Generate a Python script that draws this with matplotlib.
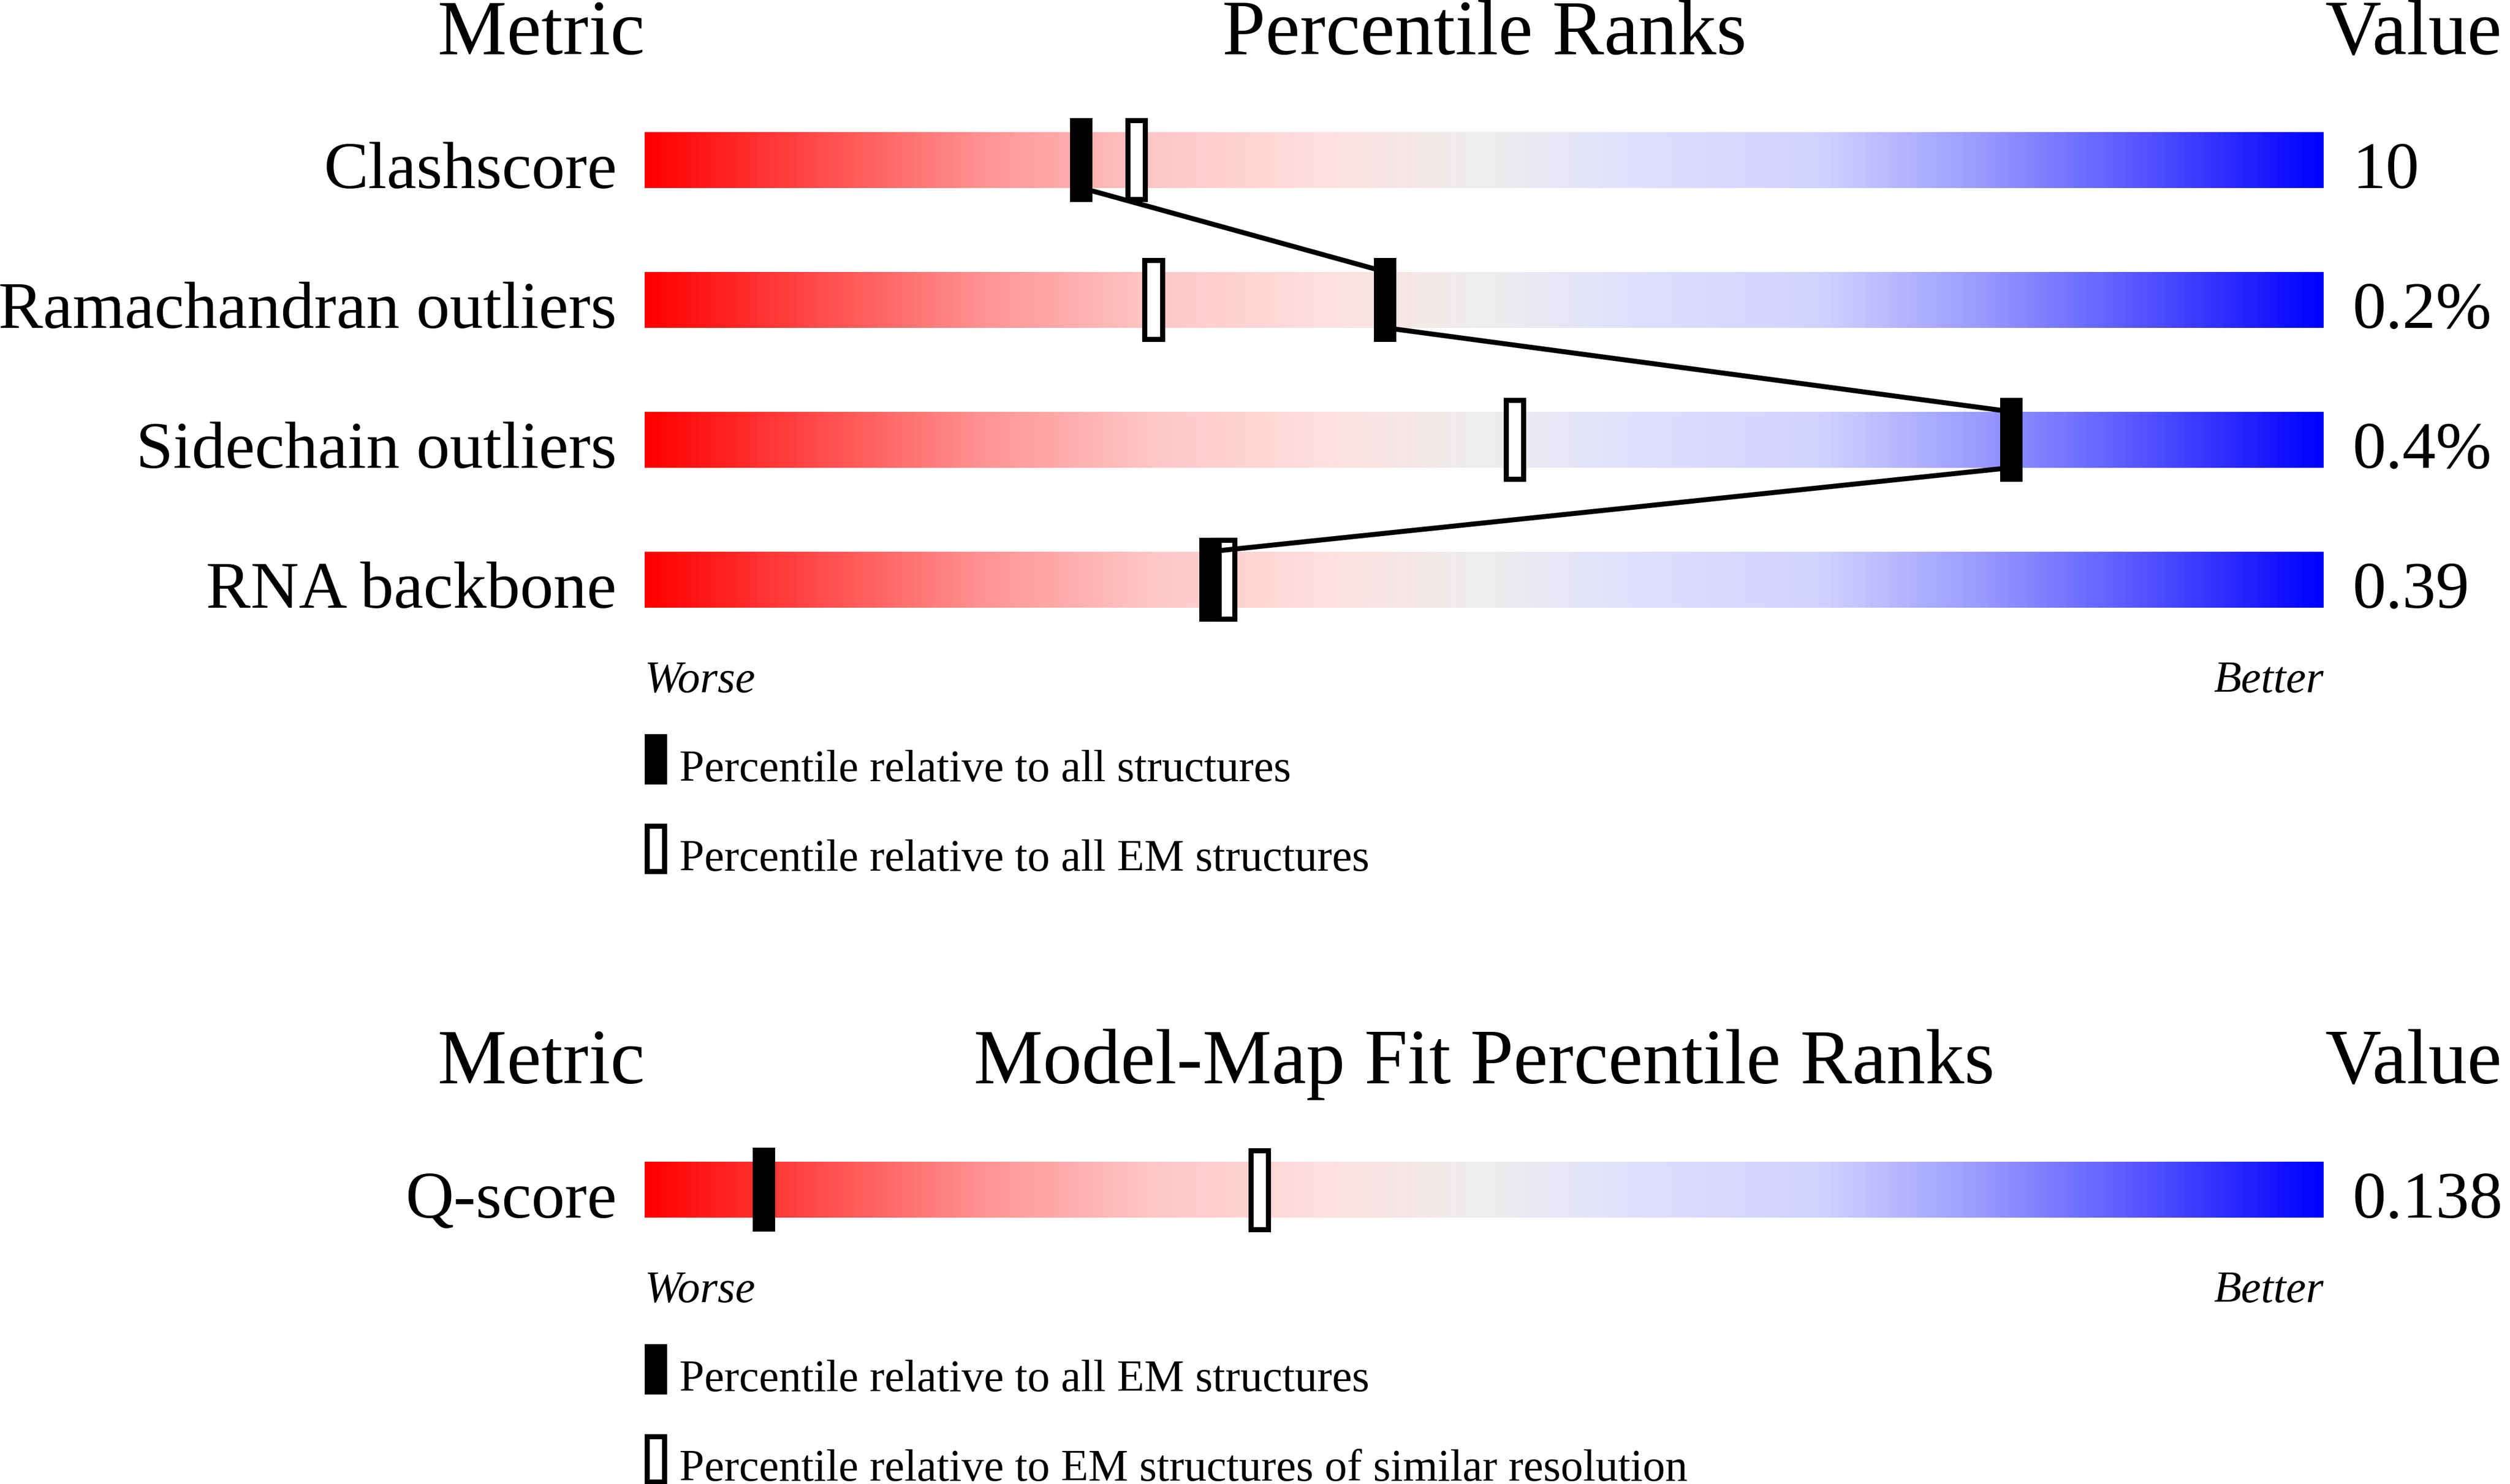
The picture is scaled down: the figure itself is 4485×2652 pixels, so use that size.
import matplotlib.pyplot as plt
import numpy as np
from matplotlib.colors import LinearSegmentedColormap
from matplotlib.patches import Rectangle

# data
metriky = ["Clashscore", "Ramachandran outliers", "Sidechain outliers", "RNA backbone"]
hodnoty = ["10", "0.2%", "0.4%", "0.39"]
pct_vse = [26.0, 44.1, 81.4, 33.7]
pct_em = [29.3, 30.3, 51.8, 34.6]

fit_metriky = ["Q-score"]
fit_hodnoty = ["0.138"]
fit_pct_em = [7.1]
fit_pct_podobne = [36.6]

legenda1 = ["Percentile relative to all structures", "Percentile relative to all EM structures"]
legenda2 = ["Percentile relative to all EM structures",
            "Percentile relative to EM structures of similar resolution"]

# barvy slideru
stopy = [(0.0, "#ff0000"), (0.1, "#ff4a4a"), (0.2, "#ff9292"), (0.3, "#ffc6c6"),
         (0.4, "#ffdede"), (0.5, "#eeeeee"), (0.6, "#dedeff"), (0.7, "#d2d2ff"),
         (0.8, "#9898ff"), (0.9, "#5050ff"), (1.0, "#0000ff")]
cmap = LinearSegmentedColormap.from_list("slider", stopy)

W, H = 4485, 2652
PX = 30.0          # pixelu na 1 percentil
X0 = 1152          # levy okraj slideru
font = "Liberation Serif"
F_TITUL = 100
F_RADEK = 86
F_MALY = 58

fig = plt.figure(figsize=(W / 100, H / 100), dpi=100)
ax = fig.add_axes([0, 0, 1, 1])
ax.axis("off")

gradient = np.linspace(0, 1, 600).reshape(1, -1)


def px(p):
    return p / PX


def panel(nazev, radky, vals, plne, prazdne, legendy, y_titul, y_prvni):
    ax.text(0, y_titul, "Metric", ha="right", va="baseline", fontsize=F_TITUL, family=font)
    ax.text(50, y_titul, nazev, ha="center", va="baseline", fontsize=F_TITUL, family=font)
    ax.text(100 + px(3), y_titul, "Value", ha="left", va="baseline", fontsize=F_TITUL, family=font)

    stredy = [y_prvni + 250 * i for i in range(len(radky))]
    for i, y in enumerate(stredy):
        ax.imshow(gradient, cmap=cmap, aspect="auto", extent=[0, 100, y + 50, y - 50],
                  interpolation="bilinear", zorder=1)
        ax.text(-px(50), y + 50, radky[i], ha="right", va="baseline", fontsize=F_RADEK, family=font)
        ax.text(100 + px(52), y + 50, vals[i], ha="left", va="baseline", fontsize=F_RADEK, family=font)
        # prazdna znacka
        ax.add_patch(Rectangle((prazdne[i] - px(15.5), y - 70.5), px(31), 141,
                               facecolor="white", edgecolor="black", linewidth=6.6, zorder=3))

    # spojnice
    for i in range(len(stredy) - 1):
        ax.plot([plne[i], plne[i + 1]], [stredy[i] + 50, stredy[i + 1] - 50],
                color="black", linewidth=6.4, solid_capstyle="butt", zorder=4)

    for i, y in enumerate(stredy):
        ax.add_patch(Rectangle((plne[i] - px(20), y - 75), px(40), 150,
                               facecolor="black", edgecolor="none", zorder=5))

    dole = stredy[-1] + 50
    ax.text(0, dole + 151, "Worse", ha="left", va="baseline", fontsize=F_MALY,
            family=font, style="italic")
    ax.text(100, dole + 151, "Better", ha="right", va="baseline", fontsize=F_MALY,
            family=font, style="italic")

    for j, txt in enumerate(legendy):
        y = dole + 226 + 160 * j
        if j == 0:
            ax.add_patch(Rectangle((0, y), px(40), 90, facecolor="black", edgecolor="none"))
        else:
            ax.add_patch(Rectangle((px(4.5), y + 4.5), px(31), 81, facecolor="white",
                                   edgecolor="black", linewidth=6.6))
        ax.text(px(62), y + 84, txt, ha="left", va="baseline", fontsize=57.6, family=font)


panel("Percentile Ranks", metriky, hodnoty, pct_vse, pct_em, legenda1, 97, 285.7)
panel("Model-Map Fit Percentile Ranks", fit_metriky, fit_hodnoty, fit_pct_em,
      fit_pct_podobne, legenda2, 1936, 2126)

ax.set_xlim(-X0 / PX, (W - X0) / PX)
ax.set_ylim(H, 0)

fig.savefig("out.png", dpi=100, facecolor="white")
